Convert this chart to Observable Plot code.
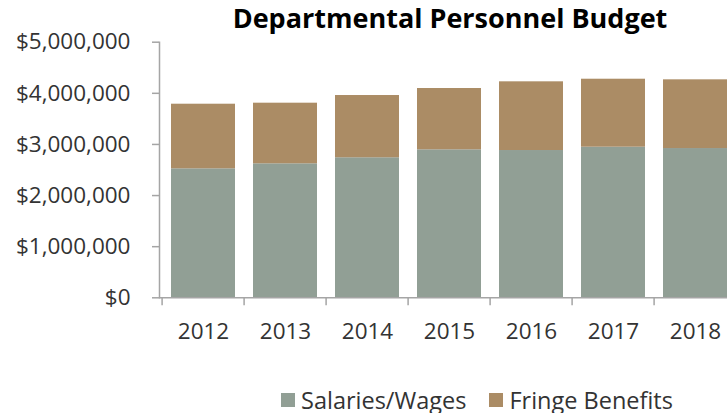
<!DOCTYPE html>
<html><head><meta charset="utf-8">
<script src="https://cdn.jsdelivr.net/npm/d3@7"></script>
<script src="https://cdn.jsdelivr.net/npm/@observablehq/plot@0.6"></script>
<style>
body{margin:0;background:#fff;font-family:"Open Sans",sans-serif;}
#title{height:36px;line-height:36px;font-size:27px;font-weight:700;text-align:center;padding-left:173px;color:#000;box-sizing:border-box;width:727px;white-space:nowrap;overflow:visible}
#legend{display:flex;align-items:center;padding-left:281px;padding-top:33px;font-size:23.5px;line-height:26px;color:#333;white-space:nowrap}
.sw{width:14px;height:14px;display:inline-block;margin-right:6px}
.item{display:flex;align-items:center;margin-right:23px}
</style></head><body>
<div id="title">Departmental Personnel Budget</div>
<div id="chart"></div>
<div id="legend"></div>
<script>
const years = ["2012", "2013", "2014", "2015", "2016", "2017", "2018"];
const salaries = [2523000, 2621000, 2739000, 2895000, 2881000, 2946000, 2920000];
const fringe = [1264000, 1186000, 1218000, 1199000, 1344000, 1330000, 1344000];
const seriesNames = ["Salaries/Wages", "Fringe Benefits"];
const seriesColors = ["#919F95", "#AB8C65"];
const yTicks = [0, 1000000, 2000000, 3000000, 4000000, 5000000];

const data = [];
years.forEach((y, i) => {
  data.push({year: y, series: seriesNames[0], value: salaries[i]});
  data.push({year: y, series: seriesNames[1], value: fringe[i]});
});

const axisColor = "#a5a5a5";
const step = 82.8;

const chart = Plot.plot({
  width: 727,
  height: 318,
  marginTop: 5.7,
  marginBottom: 56.7,
  marginLeft: 159,
  marginRight: 0,
  style: {fontFamily: "Open Sans, sans-serif", fontSize: "22.5px", color: "#333", background: "#fff", overflow: "visible"},
  x: {domain: years, range: [159, 159 + step * years.length], paddingInner: 0.22, paddingOuter: 0.11},
  y: {domain: [0, 5000000]},
  color: {domain: seriesNames, range: seriesColors},
  marks: [
    Plot.barY(data, {x: "year", y: "value", fill: "series", order: seriesNames}),
    Plot.ruleY([0], {stroke: axisColor, strokeWidth: 1.5}),
    Plot.frame({anchor: "left", stroke: axisColor, strokeWidth: 1.5}),
    Plot.axisY({ticks: yTicks, tickFormat: d3.format("$,"), tickSize: 7, tickPadding: 22, stroke: axisColor, strokeWidth: 1.5, fontSize: 22.5, label: null, fill: "#333"}),
    Plot.axisX({tickSize: 0, tickPadding: 25.7, fontSize: 22.5, label: null, fill: "#333"}),
    Plot.axisX({text: null, tickSize: 8, dx: -step / 2, stroke: axisColor, strokeWidth: 1.5, label: null})
  ]
});
document.getElementById("chart").appendChild(chart);

const legend = document.getElementById("legend");
seriesNames.forEach((n, i) => {
  const it = document.createElement("div");
  it.className = "item";
  const sw = document.createElement("span");
  sw.className = "sw";
  sw.style.background = seriesColors[i];
  it.appendChild(sw);
  const t = document.createElement("span");
  t.textContent = n;
  it.appendChild(t);
  legend.appendChild(it);
});
</script>
</body></html>
